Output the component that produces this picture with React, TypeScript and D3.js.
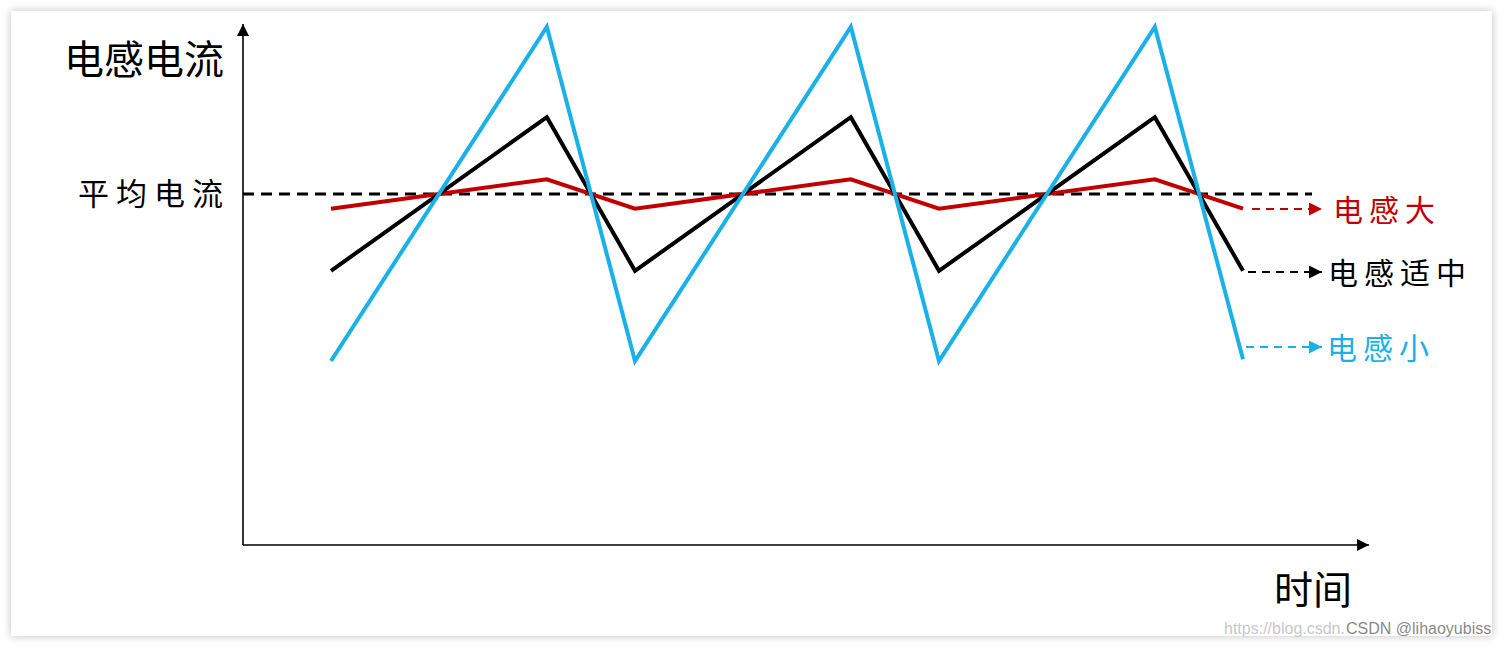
import React from 'react';
import * as d3 from 'd3';

// time points of one waveform (1 = one switching period)
const times = [0, 0.71, 1, 1.71, 2, 2.71, 3];
// inductor current, relative to the average (0)
const smallL = [-1, 1, -1, 1, -1, 1, -0.99];
const mediumL = [-0.46, 0.46, -0.46, 0.46, -0.46, 0.46, -0.46];
const largeL = [-0.088, 0.088, -0.088, 0.088, -0.088, 0.088, -0.088];

const seriesNames = ['电感大', '电感适中', '电感小'];
const seriesColors = ['#c00000', '#000000', '#1ab0e8'];
const seriesValues = [largeL, mediumL, smallL];

const yTitle = '电感电流';
const xTitle = '时间';
const avgLabel = '平均电流';

const W = 1505;
const H = 647;

export default function App() {
  const x = d3.scaleLinear().domain([0, 3]).range([331, 1243]);
  const y = d3.scaleLinear().domain([-1, 1]).range([361, 27]);

  const axisX = 243;
  const axisY = 545;

  const lineFn = d3
    .line<number>()
    .x((d, i) => x(times[i]))
    .y((d) => y(d));

  const labelX = [1333, 1328, 1327];
  const arrowStart = [1252, 1248, 1246];
  const legendY = [209, 272, 347];

  return (
    <svg
      width={W}
      height={H}
      style={{ position: 'absolute', left: 0, top: 0, background: '#fff' }}
    >
      <defs>
        <filter id="shadow" x="-5%" y="-5%" width="110%" height="110%">
          <feDropShadow dx="0" dy="0" stdDeviation="4" floodColor="#000" floodOpacity="0.25" />
        </filter>
        {seriesColors.map((c, i) => (
          <marker
            key={i}
            id={'arr' + i}
            viewBox="0 0 10 10"
            refX="10"
            refY="5"
            markerWidth="13"
            markerHeight="13"
            markerUnits="userSpaceOnUse"
            orient="auto"
          >
            <path d="M0,0 L10,5 L0,10 Z" fill={c} />
          </marker>
        ))}
        <marker
          id="axisArrow"
          viewBox="0 0 10 10"
          refX="10"
          refY="5"
          markerWidth="14"
          markerHeight="12"
          markerUnits="userSpaceOnUse"
          orient="auto"
        >
          <path d="M0,0 L10,5 L0,10 Z" fill="#000" />
        </marker>
      </defs>

      <rect x={11} y={11} width={1481} height={625} fill="#fff" filter="url(#shadow)" />

      {/* axes */}
      <line x1={axisX} y1={axisY} x2={axisX} y2={24} stroke="#000" strokeWidth={1.6} markerEnd="url(#axisArrow)" />
      <line x1={axisX} y1={axisY} x2={1369} y2={axisY} stroke="#000" strokeWidth={1.6} markerEnd="url(#axisArrow)" />

      {/* average current */}
      <line
        x1={axisX}
        y1={y(0)}
        x2={1312}
        y2={y(0)}
        stroke="#000"
        strokeWidth={3}
        strokeDasharray="11 7"
      />

      {seriesValues.map((vals, i) => (
        <path
          key={i}
          d={lineFn(vals) || ''}
          fill="none"
          stroke={seriesColors[i]}
          strokeWidth={4}
          strokeLinejoin="miter"
        />
      ))}

      {/* legend arrows */}
      {seriesNames.map((name, i) => (
        <g key={i}>
          <line
            x1={arrowStart[i]}
            y1={legendY[i]}
            x2={1322}
            y2={legendY[i]}
            stroke={seriesColors[i]}
            strokeWidth={2}
            strokeDasharray="8 6"
            markerEnd={'url(#arr' + i + ')'}
          />
          <text
            x={labelX[i]}
            y={legendY[i] + 1}
            dy="0.36em"
            fontFamily="'Noto Sans CJK SC'"
            fontSize={30}
            letterSpacing={6}
            fill={seriesColors[i]}
          >
            {name}
          </text>
        </g>
      ))}

      <text x={64} y={60} dy="0.36em" fontFamily="'Noto Sans CJK SC'" fontSize={40} fill="#000">
        {yTitle}
      </text>
      <text
        x={78}
        y={y(0)}
        dy="0.36em"
        fontFamily="'Noto Sans CJK SC'"
        fontSize={31}
        letterSpacing={7}
        fill="#000"
      >
        {avgLabel}
      </text>
      <text x={1274} y={590} dy="0.36em" fontFamily="'Noto Sans CJK SC'" fontSize={39} fill="#000">
        {xTitle}
      </text>

      {/* watermark */}
      <text x={1224} y={634} fontFamily="'Liberation Sans', Arial" fontSize={16} fill="#c8c8c8">
        https://blog.csdn.
      </text>
      <text x={1346} y={634} fontFamily="'Liberation Sans', Arial" fontSize={16} fill="#8a8a8a">
        CSDN @lihaoyubiss
      </text>
    </svg>
  );
}
